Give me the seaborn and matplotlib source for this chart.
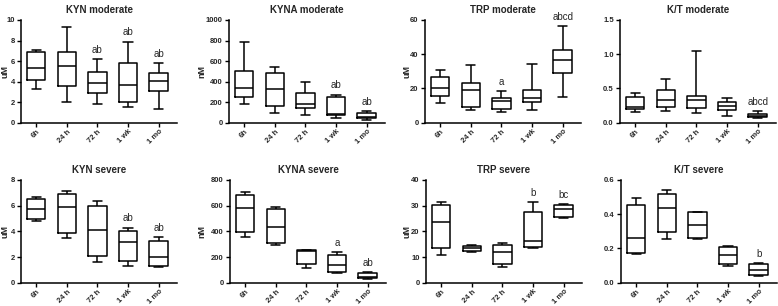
import numpy as np
import pandas as pd
import matplotlib
matplotlib.use("Agg")
import matplotlib.pyplot as plt
import seaborn as sns

TIMES = ["6h", "24 h", "72 h", "1 wk", "1 mo"]

# five-number summaries per time point: (min, Q1, median, Q3, max)
KYN_MOD = [[3.3, 4.2, 5.3, 6.9, 7.1], [2.0, 3.6, 5.5, 6.85, 9.35],
           [1.82, 2.89, 3.86, 4.93, 6.2], [1.5, 1.98, 3.67, 5.78, 7.9],
           [1.33, 3.05, 4.03, 4.8, 5.81]]
KYNA_MOD = [[179, 253, 338, 503, 782], [97, 166, 325, 480, 545],
            [71, 140, 179, 286, 399], [45, 78, 84, 250, 273],
            [23, 42, 52, 91, 117]]
TRP_MOD = [[11.7, 15.8, 20.3, 26.9, 31.0], [7.4, 9.0, 18.9, 23.0, 33.7],
           [6.0, 8.0, 12.7, 14.6, 18.7], [7.6, 12.1, 14.6, 19.3, 34.1],
           [15.2, 29.2, 36.6, 42.7, 56.5]]
KT_MOD = [[0.156, 0.205, 0.234, 0.38, 0.43], [0.17, 0.229, 0.326, 0.472, 0.638],
          [0.146, 0.21, 0.326, 0.395, 1.05], [0.093, 0.185, 0.244, 0.307, 0.356],
          [0.068, 0.078, 0.097, 0.127, 0.17]]
KYN_SEV = [[4.81, 4.99, 5.71, 6.49, 6.65], [3.45, 3.9, 5.87, 6.94, 7.17],
           [1.58, 2.05, 4.1, 5.97, 6.39], [1.32, 1.71, 3.19, 4.05, 4.29],
           [1.22, 1.27, 2.03, 3.27, 3.53]]
KYNA_SEV = [[353, 395, 579, 683, 709], [296, 306, 431, 571, 587],
            [117, 145, 248, 256, 258], [73, 81, 138, 216, 236],
            [31, 34, 47, 75, 81]]
TRP_SEV = [[10.9, 13.4, 23.8, 30.4, 31.3], [11.9, 12.5, 13.4, 14.2, 14.5],
           [6.0, 7.4, 12.1, 14.8, 15.6], [13.4, 13.9, 16.1, 27.5, 31.3],
           [25.2, 25.7, 28.6, 30.3, 30.5]]
KT_SEV = [[0.17, 0.175, 0.259, 0.454, 0.495], [0.255, 0.298, 0.439, 0.518, 0.544],
          [0.255, 0.259, 0.335, 0.413, 0.415], [0.099, 0.107, 0.16, 0.209, 0.216],
          [0.041, 0.045, 0.076, 0.111, 0.115]]

SIG_KYN_MOD = ["", "", "ab", "ab", "ab"]
SIG_KYNA_MOD = ["", "", "", "ab", "ab"]
SIG_TRP_MOD = ["", "", "a", "", "abcd"]
SIG_KT_MOD = ["", "", "", "", "abcd"]
SIG_KYN_SEV = ["", "", "", "ab", "ab"]
SIG_KYNA_SEV = ["", "", "", "a", "ab"]
SIG_TRP_SEV = ["", "", "", "b", "bc"]
SIG_KT_SEV = ["", "", "", "", "b"]

TITLES = ["KYN moderate", "KYNA moderate", "TRP moderate", "K/T moderate",
          "KYN severe", "KYNA severe", "TRP severe", "K/T severe"]
YLABELS = ["uM", "nM", "uM", "", "uM", "nM", "uM", ""]
YMAX = [10, 1000, 60, 1.5, 8, 800, 40, 0.6]
YSTEP = [2, 200, 20, 0.5, 2, 200, 10, 0.2]
DATA = [KYN_MOD, KYNA_MOD, TRP_MOD, KT_MOD, KYN_SEV, KYNA_SEV, TRP_SEV, KT_SEV]
SIGS = [SIG_KYN_MOD, SIG_KYNA_MOD, SIG_TRP_MOD, SIG_KT_MOD,
        SIG_KYN_SEV, SIG_KYNA_SEV, SIG_TRP_SEV, SIG_KT_SEV]

sns.set_style("ticks")
plt.rcParams["font.family"] = ["Liberation Sans", "DejaVu Sans"]

W, H = 778, 306
fig = plt.figure(figsize=(W / 100, H / 100), dpi=100)

lefts_top = [21, 229, 425, 620]
lefts_bot = [21, 230, 426, 621]
label_right_px = [10, 206, 411, 0]
pw = 156
row_top_px = [20, 180]
ph = 102.7

for k in range(8):
    r, c = divmod(k, 4)
    left = (lefts_top if r == 0 else lefts_bot)[c]
    top = row_top_px[r]
    ax = fig.add_axes([left / W, 1 - (top + ph) / H, pw / W, ph / H])
    rows = []
    for t, vals in zip(TIMES, DATA[k]):
        for v in vals:
            rows.append({"time": t, "value": v})
    df = pd.DataFrame(rows)
    sns.boxplot(data=df, x="time", y="value", order=TIMES, whis=(0, 100),
                fill=False, color="black", linewidth=1.1, width=0.6,
                showfliers=False, ax=ax)
    ax.set_ylim(0, YMAX[k])
    ax.set_xlim(-0.5, 4.6)
    ticks = np.arange(0, YMAX[k] + YSTEP[k] / 2, YSTEP[k])
    ax.set_yticks(ticks)
    if YMAX[k] < 2:
        ax.set_yticklabels([f"{t:.1f}" for t in ticks])
    else:
        ax.set_yticklabels([f"{int(round(t))}" for t in ticks])
    ax.set_xticks(range(5))
    ax.set_xticklabels(TIMES, rotation=45, ha="right", rotation_mode="anchor")
    ax.tick_params(axis="y", direction="out", length=3, width=1,
                   labelsize=5.5, pad=1.5, color="black")
    ax.tick_params(axis="x", direction="out", length=3, width=1,
                   labelsize=5.5, pad=1, color="black")
    for lab in ax.get_xticklabels() + ax.get_yticklabels():
        lab.set_fontweight("bold")
    for s in ["left", "bottom"]:
        ax.spines[s].set_linewidth(1.1)
        ax.spines[s].set_color("black")
    sns.despine(ax=ax)
    ax.set_xlabel("")
    if YLABELS[k]:
        ax.set_ylabel(YLABELS[k], fontsize=6.5, fontweight="bold")
        ax.yaxis.set_label_coords((label_right_px[c] - left) / pw, 0.5)
    else:
        ax.set_ylabel("")
    ax.set_title(TITLES[k], fontsize=7, fontweight="bold", pad=5)
    for i, s in enumerate(SIGS[k]):
        if s:
            ax.annotate(s, xy=(i, DATA[k][i][4]), xytext=(0, 3),
                        textcoords="offset points", ha="center", va="bottom",
                        fontsize=7, annotation_clip=False)

fig.savefig("out.png", dpi=100)
